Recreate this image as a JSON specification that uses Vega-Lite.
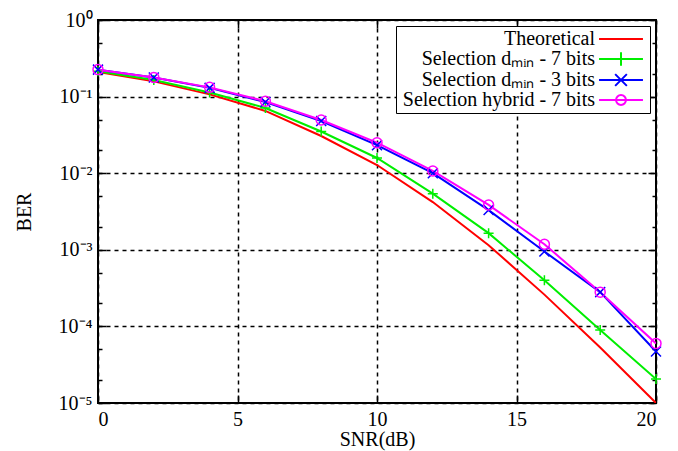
{
  "$schema": "https://vega.github.io/schema/vega-lite/v6.json",
  "width": 558,
  "height": 383,
  "autosize": "none",
  "padding": {"left": 98, "top": 20, "right": 22, "bottom": 48},
  "background": "white",
  "config": {
    "view": {"stroke": "black", "strokeWidth": 2},
    "font": "Liberation Serif",
    "axis": {"labelFont": "Liberation Serif", "titleFont": "Liberation Serif", "labelFontSize": 20, "titleFontSize": 20, "titleFontWeight": "normal", "labelColor": "black", "titleColor": "black", "domain": false, "tickColor": "black", "tickWidth": 1.5},
    "legend": {"labelFont": "Liberation Serif", "labelFontSize": 20, "labelColor": "black"}
  },
  "data": {
    "values": [
      {"snr": 0, "ber": 0.21, "series": "Theoretical"},
      {"snr": 2, "ber": 0.158, "series": "Theoretical"},
      {"snr": 4, "ber": 0.107, "series": "Theoretical"},
      {"snr": 6, "ber": 0.065, "series": "Theoretical"},
      {"snr": 8, "ber": 0.0306, "series": "Theoretical"},
      {"snr": 10, "ber": 0.0128, "series": "Theoretical"},
      {"snr": 12, "ber": 0.0042, "series": "Theoretical"},
      {"snr": 14, "ber": 0.00115, "series": "Theoretical"},
      {"snr": 16, "ber": 0.00026, "series": "Theoretical"},
      {"snr": 18, "ber": 0.000053, "series": "Theoretical"},
      {"snr": 20, "ber": 0.00001, "series": "Theoretical"},
      {"snr": 0, "ber": 0.215, "series": "Selection dₘᵢₙ - 7 bits"},
      {"snr": 2, "ber": 0.165, "series": "Selection dₘᵢₙ - 7 bits"},
      {"snr": 4, "ber": 0.113, "series": "Selection dₘᵢₙ - 7 bits"},
      {"snr": 6, "ber": 0.071, "series": "Selection dₘᵢₙ - 7 bits"},
      {"snr": 8, "ber": 0.035, "series": "Selection dₘᵢₙ - 7 bits"},
      {"snr": 10, "ber": 0.0158, "series": "Selection dₘᵢₙ - 7 bits"},
      {"snr": 12, "ber": 0.0054, "series": "Selection dₘᵢₙ - 7 bits"},
      {"snr": 14, "ber": 0.00165, "series": "Selection dₘᵢₙ - 7 bits"},
      {"snr": 16, "ber": 0.0004, "series": "Selection dₘᵢₙ - 7 bits"},
      {"snr": 18, "ber": 0.00009, "series": "Selection dₘᵢₙ - 7 bits"},
      {"snr": 20, "ber": 0.0000205, "series": "Selection dₘᵢₙ - 7 bits"},
      {"snr": 0, "ber": 0.225, "series": "Selection dₘᵢₙ - 3 bits"},
      {"snr": 2, "ber": 0.178, "series": "Selection dₘᵢₙ - 3 bits"},
      {"snr": 4, "ber": 0.13, "series": "Selection dₘᵢₙ - 3 bits"},
      {"snr": 6, "ber": 0.085, "series": "Selection dₘᵢₙ - 3 bits"},
      {"snr": 8, "ber": 0.048, "series": "Selection dₘᵢₙ - 3 bits"},
      {"snr": 10, "ber": 0.0232, "series": "Selection dₘᵢₙ - 3 bits"},
      {"snr": 12, "ber": 0.01, "series": "Selection dₘᵢₙ - 3 bits"},
      {"snr": 14, "ber": 0.0033, "series": "Selection dₘᵢₙ - 3 bits"},
      {"snr": 16, "ber": 0.00095, "series": "Selection dₘᵢₙ - 3 bits"},
      {"snr": 18, "ber": 0.00028, "series": "Selection dₘᵢₙ - 3 bits"},
      {"snr": 20, "ber": 0.000047, "series": "Selection dₘᵢₙ - 3 bits"},
      {"snr": 0, "ber": 0.225, "series": "Selection hybrid - 7 bits"},
      {"snr": 2, "ber": 0.178, "series": "Selection hybrid - 7 bits"},
      {"snr": 4, "ber": 0.132, "series": "Selection hybrid - 7 bits"},
      {"snr": 6, "ber": 0.087, "series": "Selection hybrid - 7 bits"},
      {"snr": 8, "ber": 0.0495, "series": "Selection hybrid - 7 bits"},
      {"snr": 10, "ber": 0.025, "series": "Selection hybrid - 7 bits"},
      {"snr": 12, "ber": 0.0107, "series": "Selection hybrid - 7 bits"},
      {"snr": 14, "ber": 0.00385, "series": "Selection hybrid - 7 bits"},
      {"snr": 16, "ber": 0.00118, "series": "Selection hybrid - 7 bits"},
      {"snr": 18, "ber": 0.00028, "series": "Selection hybrid - 7 bits"},
      {"snr": 20, "ber": 0.00006, "series": "Selection hybrid - 7 bits"}
    ]
  },
  "resolve": {"axis": {"x": "independent", "y": "independent"}, "legend": {"color": "independent"}},
  "layer": [
    {
      "mark": {"type": "line", "strokeWidth": 2, "clip": true},
      "encoding": {
        "x": {"field": "snr", "type": "quantitative", "scale": {"domain": [0, 20], "nice": false},
          "axis": {"title": "SNR(dB)", "values": [0, 5, 10, 15, 20], "grid": true, "gridColor": "black", "gridDash": [4, 4], "gridWidth": 1.5, "gridOpacity": 1, "tickSize": -8, "labelPadding": 14, "titlePadding": 0}},
        "y": {"field": "ber", "type": "quantitative", "scale": {"type": "log", "domain": [0.00001, 1], "nice": false},
          "axis": {"title": "BER", "values": [1, 0.1, 0.01, 0.001, 0.0001, 0.00001, 0.5, 0.2, 0.05, 0.02, 0.005, 0.002, 0.0005, 0.0002, 0.00005, 0.00002],
            "labelExpr": "datum.value == 1 ? '10⁰' : datum.value == 0.1 ? '10⁻¹' : datum.value == 0.01 ? '10⁻²' : datum.value == 0.001 ? '10⁻³' : datum.value == 0.0001 ? '10⁻⁴' : datum.value == 0.00001 ? '10⁻⁵' : ''",
            "grid": true, "gridColor": "black", "gridDash": [4, 4], "gridWidth": 1.5,
            "gridOpacity": {"condition": {"test": "abs(log(datum.value)/LN10 - round(log(datum.value)/LN10)) < 0.01", "value": 1}, "value": 0},
            "tickSize": {"condition": {"test": "abs(log(datum.value)/LN10 - round(log(datum.value)/LN10)) < 0.01", "value": -8}, "value": -4},
            "labelPadding": 14, "titlePadding": 24}},
        "color": {"field": "series", "type": "nominal",
          "scale": {"domain": ["Theoretical", "Selection dₘᵢₙ - 7 bits", "Selection dₘᵢₙ - 3 bits", "Selection hybrid - 7 bits"], "range": ["#ff0000", "#00ee00", "#0000ff", "#ff00ff"]},
          "legend": {"orient": "top-right", "offset": 6, "title": null, "strokeColor": "black", "fillColor": "white", "padding": 3, "rowPadding": -5, "labelLimit": 400, "labelFont": "Liberation Serif", "labelFontSize": 20, "symbolSize": 324, "symbolStrokeWidth": 2, "symbolType": "stroke",
            "encode": {
              "symbols": {"update": {"shape": {"signal": "datum.value == 'Theoretical' ? 'M-2.44,0L2.44,0' : datum.value == 'Selection dₘᵢₙ - 7 bits' ? 'M-2.44,0L2.44,0M0,-0.75L0,0.75' : datum.value == 'Selection dₘᵢₙ - 3 bits' ? 'M-2.44,0L2.44,0M-0.65,-0.65L0.65,0.65M-0.65,0.65L0.65,-0.65' : 'M-2.44,0L2.44,0M0.55,0A0.55,0.55 0 1,1 -0.55,0A0.55,0.55 0 1,1 0.55,0'"}, "x": {"value": 222}}},
              "labels": {"update": {"x": {"value": 196}, "align": {"value": "right"}}}
            }}},
        "order": {"field": "snr"}
      }
    },
    {
      "transform": [{"filter": "datum.series != 'Theoretical'"}],
      "mark": {"type": "point", "filled": false, "strokeWidth": 1.5, "opacity": 1},
      "encoding": {
        "x": {"field": "snr", "type": "quantitative", "axis": {"orient": "top", "values": [0, 5, 10, 15, 20], "labels": false, "title": null, "grid": false, "tickSize": -8}},
        "y": {"field": "ber", "type": "quantitative", "scale": {"type": "log"},
          "axis": {"orient": "right", "values": [1, 0.1, 0.01, 0.001, 0.0001, 0.00001, 0.5, 0.2, 0.05, 0.02, 0.005, 0.002, 0.0005, 0.0002, 0.00005, 0.00002], "labels": false, "title": null, "grid": false,
            "tickSize": {"condition": {"test": "abs(log(datum.value)/LN10 - round(log(datum.value)/LN10)) < 0.01", "value": -8}, "value": -4}}},
        "color": {"field": "series", "type": "nominal", "legend": null},
        "shape": {"field": "series", "type": "nominal",
          "scale": {"domain": ["Selection dₘᵢₙ - 7 bits", "Selection dₘᵢₙ - 3 bits", "Selection hybrid - 7 bits"], "range": ["M-1,0L1,0M0,-1L0,1", "M-1,-1L1,1M-1,1L1,-1", "circle"]},
          "legend": null},
        "size": {"value": 100}
      }
    }
  ]
}
